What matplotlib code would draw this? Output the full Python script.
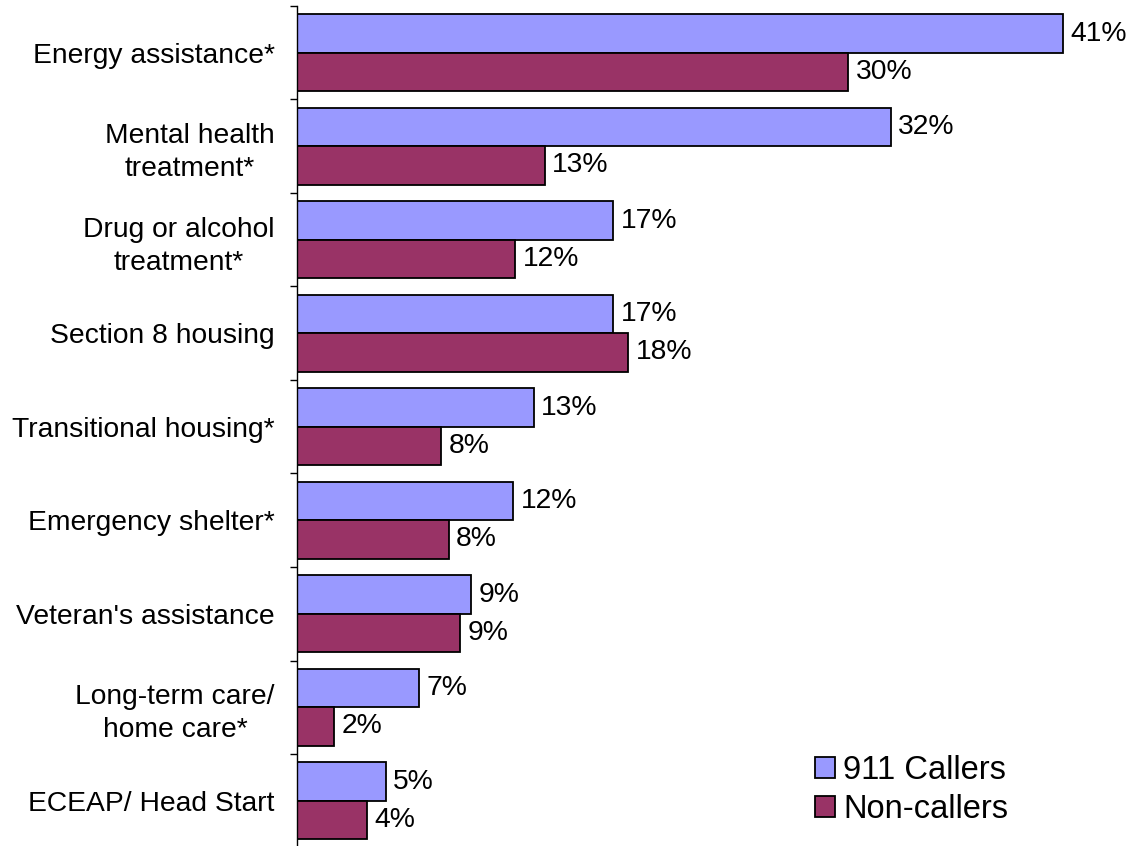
import matplotlib

matplotlib.use("Agg")
import matplotlib.pyplot as plt
import numpy as np

categories = [
    "Energy assistance*",
    "Mental health\ntreatment*",
    "Drug or alcohol\ntreatment*",
    "Section 8 housing",
    "Transitional housing*",
    "Emergency shelter*",
    "Veteran's assistance",
    "Long-term care/\nhome care*",
    "ECEAP/ Head Start",
]
callers = [41.4, 32.1, 17.1, 17.1, 12.8, 11.7, 9.4, 6.6, 4.8]
non_callers = [29.8, 13.4, 11.8, 17.9, 7.8, 8.2, 8.8, 2.0, 3.8]
series_names = ["911 Callers", "Non-callers"]

BLUE = "#9999FF"
PLUM = "#993366"

plt.rcParams["font.family"] = ["Liberation Sans", "DejaVu Sans"]

fig = plt.figure(figsize=(11.36, 8.46), dpi=100)
W, H = 1136, 846
x0, y_top, y_bot = 297, 6, 847.5
ax = fig.add_axes([x0 / W, (H - y_bot) / H, (1130 - x0) / W, (y_bot - y_top) / H])

y = np.arange(len(categories))
h = 0.41
b1 = ax.barh(y - h / 2, callers, height=h, color=BLUE, edgecolor="black",
             linewidth=1.3, label=series_names[0])
b2 = ax.barh(y + h / 2, non_callers, height=h, color=PLUM, edgecolor="black",
             linewidth=1.3, label=series_names[1])

for bars, vals in ((b1, callers), (b2, non_callers)):
    for rect, v in zip(bars, vals):
        ax.text(rect.get_width() + 0.4, rect.get_y() + rect.get_height() / 2,
                f"{round(v)}%", va="center", ha="left", fontsize=20.3)

ax.set_xlim(0, (1130 - x0) / 18.5)
ax.set_ylim(len(categories) - 0.5, -0.5)

for s in ("top", "right", "bottom"):
    ax.spines[s].set_visible(False)
ax.spines["left"].set_linewidth(1.0)
ax.set_xticks([])

ax.set_yticks(y)
ax.set_yticklabels(categories, fontsize=20.3)
for lab in ax.get_yticklabels():
    lab.set_multialignment("center")
    lab.set_linespacing(1.35)
ax.tick_params(axis="y", which="major", length=0, pad=16)
ax.set_yticks(np.arange(-0.5, len(categories), 1.0), minor=True)
ax.tick_params(axis="y", which="minor", length=5, width=1.0, direction="out")

fig.legend(handles=[b1, b2], labels=series_names, loc="center left",
           bbox_to_anchor=(815 / W, 1 - 790 / H), frameon=False, fontsize=23.5,
           handlelength=0.62, handleheight=0.62, handletextpad=0.25,
           labelspacing=0.25, borderpad=0, borderaxespad=0)

fig.savefig("out.png", dpi=100)
